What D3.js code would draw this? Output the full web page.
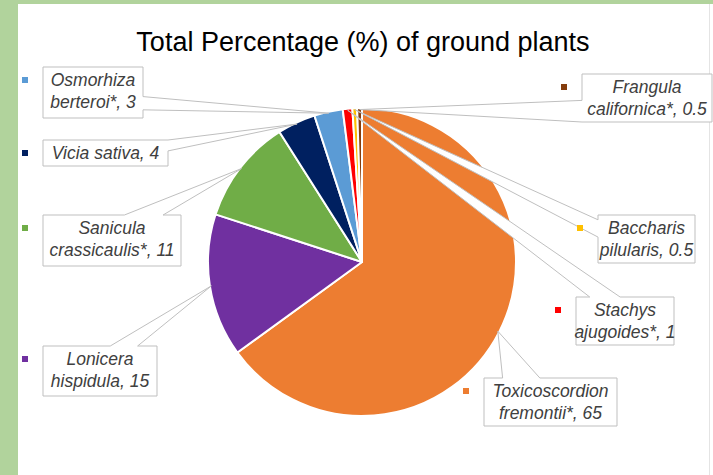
<!DOCTYPE html>
<html>
<head>
<meta charset="utf-8">
<script src="https://cdn.jsdelivr.net/npm/d3@7"></script>
<style>
  html, body { margin: 0; padding: 0; background: #ffffff; }
  svg { display: block; }
</style>
</head>
<body>
<svg id="chart" width="713" height="475"></svg>
<script>
// ---- data ----
const species = ["Toxicoscordion fremontii*", "Lonicera hispidula", "Sanicula crassicaulis*",
                 "Vicia sativa", "Osmorhiza berteroi*", "Stachys ajugoides*",
                 "Baccharis pilularis", "Frangula californica*"];
const percentages = [65, 15, 11, 4, 3, 1, 0.5, 0.5];
const sliceColors = ["#ED7D31", "#7030A0", "#70AD47", "#002060", "#5B9BD5", "#FF0000", "#FFC000", "#843C0C"];
const titleText = "Total Percentage (%) of ground plants";

// ---- layout (label callout boxes) ----
// box: x, y, w, h ; wrap: split name after first word ; side/base: where the wedge leaves the box
const labelLayout = [
  {x: 484, y: 378, w: 133, h: 48, wrap: true,  side: "top",   b0: 0.14, b1: 0.42},
  {x: 43,  y: 346, w: 114, h: 50, wrap: true,  side: "top",   b0: 0.59, b1: 0.83},
  {x: 43,  y: 215, w: 138, h: 51, wrap: true,  side: "top",   b0: 0.59, b1: 0.87},
  {x: 43,  y: 140, w: 125, h: 26, wrap: false, side: "right", b0: 0.0,  b1: 0.42},
  {x: 43,  y: 67,  w: 100, h: 51, wrap: true,  side: "right", b0: 0.58, b1: 0.84},
  {x: 576, y: 297, w: 98,  h: 48, wrap: true,  side: "top",   b0: 0.14, b1: 0.45},
  {x: 598, y: 215, w: 97,  h: 48, wrap: true,  side: "left",  b0: 0.10, b1: 0.46},
  {x: 582, y: 74,  w: 130, h: 48, wrap: true,  side: "left",  b0: 0.55, b1: 1.0}
];

const W = 713, H = 475;
const svg = d3.select("#chart");

// background frame
svg.append("rect").attr("x", 0).attr("y", 0).attr("width", W).attr("height", H).attr("fill", "#ffffff");
svg.append("rect").attr("x", 0).attr("y", 0).attr("width", W).attr("height", 4).attr("fill", "#b1d39c");
svg.append("rect").attr("x", 0).attr("y", 0).attr("width", 18).attr("height", H).attr("fill", "#b1d39c");
svg.append("line").attr("x1", 709.5).attr("x2", 709.5).attr("y1", 4).attr("y2", H)
   .attr("stroke", "#e4e4e4").attr("stroke-width", 1);

// title
svg.append("text")
  .attr("x", 363).attr("y", 51)
  .attr("text-anchor", "middle")
  .attr("font-family", "Liberation Sans, Arial, sans-serif")
  .attr("font-size", 27)
  .attr("fill", "#000000")
  .text(titleText);

// pie
const cx = 362, cy = 262, R = 154;
const data = species.map((s, i) => ({name: s, value: percentages[i], color: sliceColors[i], layout: labelLayout[i]}));
const pie = d3.pie().value(d => d.value).sort(null).startAngle(0).endAngle(2 * Math.PI);
const arcs = pie(data);
const arcGen = d3.arc().innerRadius(0).outerRadius(R);

const g = svg.append("g").attr("transform", `translate(${cx},${cy})`);
g.selectAll("path.slice").data(arcs).join("path")
  .attr("class", "slice")
  .attr("d", arcGen)
  .attr("fill", d => d.data.color)
  .attr("stroke", "#ffffff")
  .attr("stroke-width", 2)
  .attr("stroke-linejoin", "round");

// callouts
const fontFamily = "Liberation Sans, Arial, sans-serif";
arcs.forEach(a => {
  const L = a.data.layout;
  const mid = (a.startAngle + a.endAngle) / 2;
  const tipR = R * 0.99;
  const tx = cx + tipR * Math.sin(mid), ty = cy - tipR * Math.cos(mid);
  const x0 = L.x, y0 = L.y, x1 = L.x + L.w, y1 = L.y + L.h;
  let pts = [];
  // clockwise from top-left
  if (L.side === "top") {
    const bx0 = x0 + L.b0 * L.w, bx1 = x0 + L.b1 * L.w;
    pts = [[x0, y0], [bx0, y0], [tx, ty], [bx1, y0], [x1, y0], [x1, y1], [x0, y1]];
  } else if (L.side === "right") {
    const by0 = y0 + L.b0 * L.h, by1 = y0 + L.b1 * L.h;
    pts = [[x0, y0], [x1, y0], [x1, by0], [tx, ty], [x1, by1], [x1, y1], [x0, y1]];
  } else if (L.side === "left") {
    const by0 = y0 + L.b0 * L.h, by1 = y0 + L.b1 * L.h;
    pts = [[x0, y0], [x1, y0], [x1, y1], [x0, y1], [x0, by1], [tx, ty], [x0, by0]];
  }
  svg.append("path")
    .attr("d", d3.line()(pts) + "Z")
    .attr("fill", "#ffffff")
    .attr("stroke", "#bfbfbf")
    .attr("stroke-width", 1)
    .attr("stroke-linejoin", "miter");

  // text
  const label = a.data.name + ", " + a.data.value;
  let lines;
  if (L.wrap) {
    const sp = label.indexOf(" ");
    lines = [label.slice(0, sp), label.slice(sp + 1)];
  } else {
    lines = [label];
  }
  const t = svg.append("text")
    .attr("text-anchor", "middle")
    .attr("font-family", fontFamily)
    .attr("font-style", "italic")
    .attr("font-size", 17.5)
    .attr("fill", "#404040");
  lines.forEach((ln, k) => {
    t.append("tspan").attr("x", x0 + L.w / 2).attr("y", y0 + 19 + k * 22).text(ln);
  });

  // legend key marker
  svg.append("rect")
    .attr("x", x0 - 21).attr("y", y0 + 10)
    .attr("width", 6).attr("height", 6)
    .attr("fill", a.data.color);
});
</script>
</body>
</html>
